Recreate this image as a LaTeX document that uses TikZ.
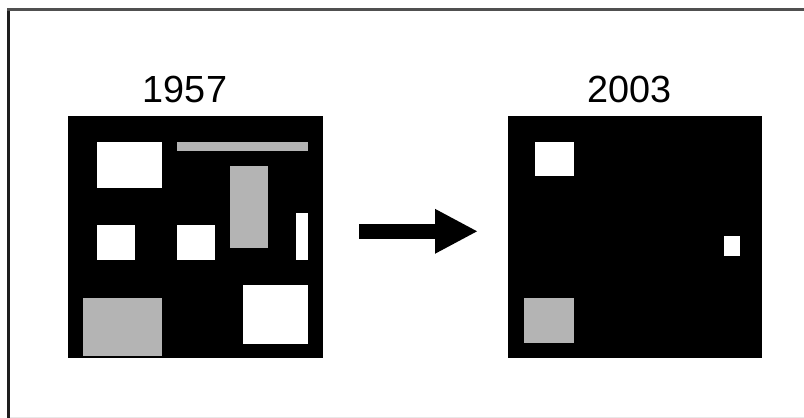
\documentclass[tikz,border=0pt]{standalone}
\usepackage{fontspec}
\setmainfont{Liberation Sans}
\usetikzlibrary{arrows.meta}
\definecolor{lightfill}{RGB}{180,180,180}
\definecolor{frameleft}{RGB}{30,30,30}
\definecolor{frametop}{RGB}{80,80,80}
\definecolor{framebottom}{RGB}{232,232,232}
\tikzset{
  blk/.style={rectangle, fill=black, draw=none, inner sep=0pt, outer sep=0pt},
  wht/.style={rectangle, fill=white, draw=none, inner sep=0pt, outer sep=0pt},
  gry/.style={rectangle, fill=lightfill, draw=none, inner sep=0pt, outer sep=0pt},
  yearlabel/.style={anchor=base, inner sep=0pt, font=\fontsize{37.8}{40}\selectfont},
  bigarrow/.style={line width=15pt, line cap=butt, -{Triangle[length=43pt, width=41.5pt]}}
}
\begin{document}
\begin{tikzpicture}[x=1pt, y=-1pt]
\useasboundingbox (0,0) rectangle (804,418);
% frame
\draw[frameleft, line width=3pt] (8.5,8) -- (8.5,418);
\draw[frametop, line width=3pt] (7,9.5) -- (804,9.5);
\draw[framebottom, line width=1pt] (10,417) -- (804,417);
% labels
\node[yearlabel] (lab1957) at (185,102.7) {1957};
\node[yearlabel] (lab2003) at (629.5,102.7) {2003};
% left block
\node[blk, minimum width=255pt, minimum height=242pt] (left) at (195.5,237) {};
\node[wht, minimum width=65pt, minimum height=46pt] (lw1) at (129.2,164.7) {};
\node[gry, minimum width=131pt, minimum height=8.7pt] (lg1) at (242.2,146.7) {};
\node[gry, minimum width=37.7pt, minimum height=82.3pt] (lg2) at (248.8,207.2) {};
\node[wht, minimum width=38.3pt, minimum height=35pt] (lw2) at (115.8,242.5) {};
\node[wht, minimum width=38.3pt, minimum height=35pt] (lw3) at (195.8,242.5) {};
\node[wht, minimum width=11.7pt, minimum height=46.7pt] (lw4) at (301.8,236.7) {};
\node[gry, minimum width=78.4pt, minimum height=58.3pt] (lg3) at (122.5,326.8) {};
\node[wht, minimum width=65pt, minimum height=59pt] (lw5) at (275.8,314.5) {};
% right block
\node[blk, minimum width=254pt, minimum height=242pt] (right) at (635,237) {};
\node[wht, minimum width=39pt, minimum height=33.4pt] (rw1) at (554.8,159) {};
\node[wht, minimum width=16.6pt, minimum height=20pt] (rw2) at (732,245.7) {};
\node[gry, minimum width=50.6pt, minimum height=45.6pt] (rg1) at (549,320.5) {};
% arrow
\coordinate (arrowstart) at (359,231.3);
\coordinate (arrowend) at (478,231.3);
\draw[bigarrow] (arrowstart) -- (arrowend);
\end{tikzpicture}
\end{document}
